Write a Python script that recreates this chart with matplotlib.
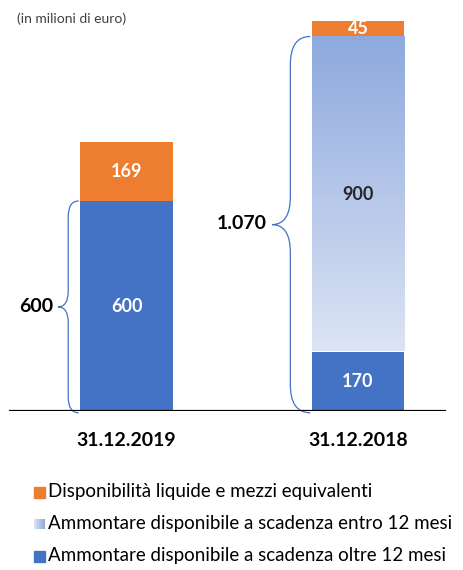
import numpy as np
import matplotlib
matplotlib.use("Agg")
from matplotlib import pyplot as plt
from matplotlib.path import Path
from matplotlib.patches import PathPatch, Rectangle
from matplotlib.colors import LinearSegmentedColormap

# data (milioni di euro)
categories = ["31.12.2019", "31.12.2018"]
oltre_12 = [600, 170]
entro_12 = [0, 900]
liquidita = [169, 45]
brace_totals = ["600", "1.070"]
legend_labels = ["Disponibilità liquide e mezzi equivalenti",
                 "Ammontare disponibile a scadenza entro 12 mesi",
                 "Ammontare disponibile a scadenza oltre 12 mesi"]

ORANGE = "#ED7D31"
BLUE = "#4472C4"
grad = LinearSegmentedColormap.from_list("g", ["#DCE4F4", "#8EA9DE"])

W, H = 463, 570
plt.rcParams['font.family'] = ['Lato', 'DejaVu Sans']
fig = plt.figure(figsize=(W / 100, H / 100), dpi=100)

base_px = 411
scale = 0.35  # px per unit
ax = fig.add_axes([0, (H - base_px) / H, 1, base_px / H])
step = 231.5
x0 = 126.5
ax.axis("off")

xs = np.arange(len(categories))
bw = 0.4
b1 = np.array(oltre_12)
b2 = b1 + np.array(entro_12)
ax.bar(xs, oltre_12, width=bw, color=BLUE, zorder=2)
ax.bar(xs, liquidita, bottom=b2, width=bw, color=ORANGE, zorder=2)
for i in range(len(xs)):
    if entro_12[i] > 0:
        g = np.linspace(0, 1, 256).reshape(-1, 1)
        ax.imshow(g, cmap=grad, aspect="auto", origin="lower",
                  extent=[xs[i] - bw / 2, xs[i] + bw / 2, b1[i], b2[i]], zorder=2)
ax.set_xlim(-x0 / step, (W - x0) / step)
ax.set_ylim(0, base_px / scale)

# value labels
for i in range(len(xs)):
    ax.text(xs[i], oltre_12[i] / 2, str(oltre_12[i]), color="white", fontsize=13,
            fontweight="bold", ha="center", va="center", zorder=3)
    if entro_12[i] > 0:
        ax.text(xs[i], b1[i] + entro_12[i] / 2, str(entro_12[i]), color="#262626",
                fontsize=13, fontweight="bold", ha="center", va="center", zorder=3)
    ax.text(xs[i], b2[i] + liquidita[i] / 2, str(liquidita[i]), color="white",
            fontsize=13, fontweight="bold", ha="center", va="center", zorder=3)

# baseline
ax.axhline(0, xmin=10 / W, xmax=445 / W, color="black", lw=1.6, zorder=4)


def brace(ax, x_end, x_line, x_tip, y0, y1, r):
    ym = (y0 + y1) / 2
    verts = [(x_end, y1), (x_line, y1), (x_line, y1 - r),
             (x_line, ym + r),
             (x_line, ym), (x_tip, ym),
             (x_line, ym), (x_line, ym - r),
             (x_line, y0 + r),
             (x_line, y0), (x_end, y0)]
    codes = [Path.MOVETO, Path.CURVE3, Path.CURVE3,
             Path.LINETO,
             Path.CURVE3, Path.CURVE3,
             Path.CURVE3, Path.CURVE3,
             Path.LINETO,
             Path.CURVE3, Path.CURVE3]
    ax.add_patch(PathPatch(Path(verts, codes), fill=False, edgecolor=BLUE,
                           lw=0.9, zorder=3, clip_on=False))


totals = b2
for i in range(len(xs)):
    left = xs[i] - bw / 2
    hpx = totals[i] * scale
    line_off = 0.057 * hpx
    tip_off = 0.106 * hpx
    brace(ax, left - 1.5 / step, left - line_off / step, left - tip_off / step,
          -5, totals[i], 0.075 * totals[i])
    ax.text(left - (tip_off + 5) / step, totals[i] / 2, brace_totals[i], fontsize=14,
            fontweight="bold", ha="right", va="center", color="black")

# category labels
for i in range(len(xs)):
    fig.text((x0 + xs[i] * step) / W, 1 - 441 / H, categories[i], fontsize=14,
             fontweight="bold", ha="center", va="center", color="black")

fig.text(17 / W, 1 - 19 / H, "(in milioni di euro)", fontsize=10,
         color="#404040", ha="left", va="center")

# legend
leg_y = [492, 524, 556]
sq = 11
leg_colors = [ORANGE, None, BLUE]
for k in range(3):
    yc = leg_y[k]
    if leg_colors[k] is not None:
        fig.patches.append(Rectangle((34 / W, 1 - (yc + sq / 2) / H), sq / W, sq / H,
                                     transform=fig.transFigure, color=leg_colors[k]))
    else:
        lax = fig.add_axes([34 / W, 1 - (yc + sq / 2) / H, sq / W, sq / H])
        lax.imshow(np.linspace(0, 1, 64).reshape(1, -1), cmap=grad, aspect="auto")
        lax.axis("off")
    fig.text(48 / W, 1 - yc / H, legend_labels[k], fontsize=13.5, color="black",
             ha="left", va="center")

fig.savefig("out.png", dpi=100)
